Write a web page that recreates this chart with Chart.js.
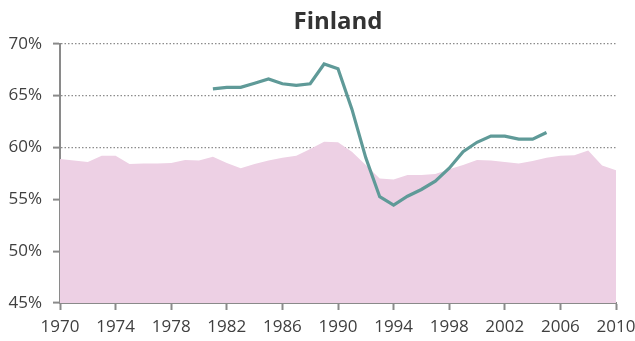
<!DOCTYPE html>
<html>
<head>
<meta charset="utf-8">
<script src="https://cdn.jsdelivr.net/npm/chart.js@4/dist/chart.umd.min.js"></script>
<style>
  html, body { margin: 0; padding: 0; background: #ffffff; }
  #wrap { width: 635px; height: 341px; }
</style>
</head>
<body>
<div id="wrap"><canvas id="chart" width="635" height="341"></canvas></div>
<script>
// Years covered by the shaded series (1970–2010)
const areaYears = [1970,1971,1972,1973,1974,1975,1976,1977,1978,1979,1980,
  1981,1982,1983,1984,1985,1986,1987,1988,1989,1990,
  1991,1992,1993,1994,1995,1996,1997,1998,1999,2000,
  2001,2002,2003,2004,2005,2006,2007,2008,2009,2010];
// Shaded background series, %
const areaValues = [58.9,58.75,58.6,59.2,59.2,58.4,58.45,58.45,58.5,58.8,58.75,
  59.1,58.5,58.0,58.4,58.75,59.0,59.2,59.85,60.55,60.5,
  59.6,58.3,57.0,56.9,57.35,57.35,57.45,57.9,58.3,58.8,
  58.75,58.6,58.45,58.7,59.0,59.2,59.25,59.7,58.25,57.8];

// Years covered by the line series (1981–2005)
const lineYears = [1981,1982,1983,1984,1985,1986,1987,1988,1989,1990,
  1991,1992,1993,1994,1995,1996,1997,1998,1999,2000,
  2001,2002,2003,2004,2005];
// Line series, %
const lineValues = [65.65,65.8,65.8,66.2,66.6,66.15,66.0,66.15,68.05,67.6,
  63.7,59.0,55.25,54.45,55.3,55.95,56.75,58.0,59.6,60.5,
  61.1,61.1,60.8,60.8,61.45];

// Axis ticks
const xTicks = [1970,1974,1978,1982,1986,1990,1994,1998,2002,2006,2010];
const yTicks = [45,50,55,60,65,70];

const FONT = "'Open Sans', 'Liberation Sans', sans-serif";
const AXIS_GREY = '#8a8a8a';

const toPoints = (xs, ys) => xs.map((x, i) => ({ x: x, y: ys[i] }));

new Chart(document.getElementById('chart'), {
  type: 'line',
  data: {
    datasets: [
      {
        label: 'line',
        data: toPoints(lineYears, lineValues),
        borderColor: '#5f9a98',
        borderWidth: 3.2,
        pointRadius: 0,
        tension: 0,
        fill: false,
        order: 0
      },
      {
        label: 'area',
        data: toPoints(areaYears, areaValues),
        borderWidth: 0,
        borderColor: 'rgba(0,0,0,0)',
        backgroundColor: '#edd0e4',
        pointRadius: 0,
        tension: 0,
        fill: 'start',
        order: 1
      }
    ]
  },
  options: {
    responsive: false,
    devicePixelRatio: 1,
    animation: false,
    layout: { padding: { left: 0, right: 19, top: 0, bottom: 0 } },
    plugins: {
      legend: { display: false },
      tooltip: { enabled: false },
      title: {
        display: true,
        text: 'Finland',
        fullSize: false,
        color: '#333333',
        font: { family: FONT, size: 24, weight: 'bold' },
        padding: { top: 8, bottom: 7 }
      }
    },
    scales: {
      x: {
        type: 'linear',
        min: 1970,
        max: 2010,
        z: 1,
        afterFit: (s) => { s.height = 38; s.paddingLeft = 0; s.paddingRight = 0; },
        afterBuildTicks: (s) => { s.ticks = xTicks.map(v => ({ value: v })); },
        ticks: {
          color: '#404040',
          font: { family: FONT, size: 17 },
          padding: 7,
          maxRotation: 0,
          autoSkip: false,
          callback: (v) => String(v)
        },
        grid: {
          drawOnChartArea: false,
          drawTicks: true,
          tickLength: 7,
          tickColor: AXIS_GREY,
          tickWidth: 2
        },
        border: { display: true, color: AXIS_GREY, width: 2 }
      },
      y: {
        type: 'linear',
        min: 45,
        max: 70,
        z: 1,
        afterFit: (s) => { s.width = 60; },
        afterBuildTicks: (s) => { s.ticks = yTicks.map(v => ({ value: v })); },
        ticks: {
          color: '#404040',
          font: { family: FONT, size: 17 },
          padding: 11,
          callback: (v) => v + '%'
        },
        grid: {
          color: '#8c8c8c',
          lineWidth: 1.2,
          drawTicks: true,
          tickLength: 7,
          tickColor: AXIS_GREY,
          tickWidth: 2,
          tickBorderDash: []
        },
        border: { display: true, color: AXIS_GREY, width: 2, dash: [1.5, 2] }
      }
    }
  }
});
</script>
</body>
</html>
